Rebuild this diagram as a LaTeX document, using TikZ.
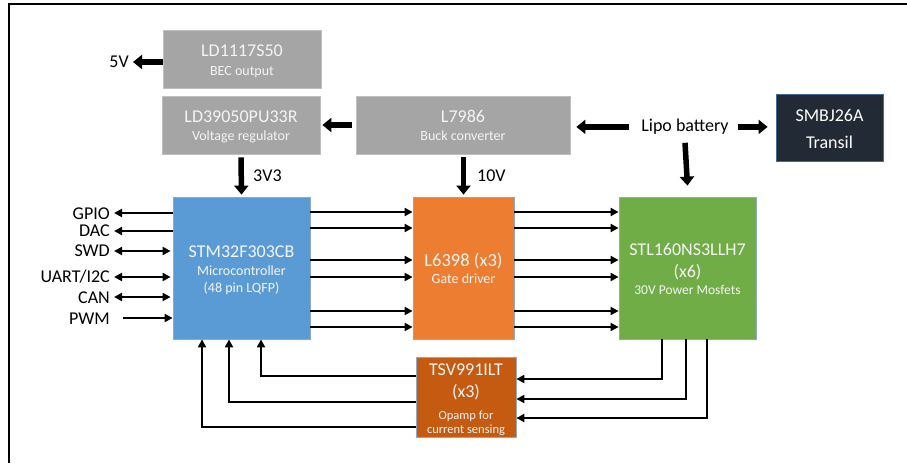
\documentclass[tikz,border=0pt]{standalone}
\usepackage{fontspec}
\setmainfont{Carlito}
\usetikzlibrary{arrows.meta}
\definecolor{boxgray}{HTML}{A5A5A5}
\definecolor{graybd}{HTML}{BFBFBF}
\definecolor{mcublue}{HTML}{5B9BD5}
\definecolor{gdorange}{HTML}{ED7D31}
\definecolor{fetgreen}{HTML}{70AD47}
\definecolor{oprust}{HTML}{C55A11}
\definecolor{tvsdark}{HTML}{222A35}
\definecolor{bdblue}{HTML}{8FA9C8}
\definecolor{txtw}{HTML}{F4F4F4}
\tikzset{
  blk/.style={draw=bdblue, line width=0.8pt, inner sep=0pt},
  grayblk/.style={draw=graybd, line width=0.8pt, fill=boxgray, inner sep=0pt},
  ttl/.style={anchor=base, inner sep=0pt, text=txtw, font=\fontsize{18}{20}\selectfont},
  sub/.style={anchor=base, inner sep=0pt, text=txtw, font=\fontsize{14}{16}\selectfont},
  tiny/.style={anchor=base, inner sep=0pt, text=txtw, font=\fontsize{12.5}{14}\selectfont},
  lbl/.style={anchor=base, inner sep=0pt, text=black, font=\fontsize{18}{20}\selectfont},
  sig/.style={line width=2.2pt, -{Triangle[width=8pt,length=8pt]}},
  sigb/.style={line width=2.2pt, {Triangle[width=8pt,length=8pt]}-{Triangle[width=8pt,length=8pt]}},
  pwr/.style={line width=5.5pt, -{Triangle[width=14pt,length=9pt]}},
}
\begin{document}
\begin{tikzpicture}[x=1pt,y=-1pt]
\useasboundingbox (0,0) rectangle (907,463);
\fill[white] (0,0) rectangle (907,463);
\draw[line width=2.5pt] (9,463) -- (9,4) -- (907,4);

% boxes
\node[grayblk, minimum width=158pt, minimum height=58pt] (ldbec) at (242,59) {};
\node[grayblk, minimum width=158pt, minimum height=58pt] (ldreg) at (241,125) {};
\node[grayblk, minimum width=214pt, minimum height=58pt] (buck) at (463,125) {};
\node[blk, draw=mcublue!70!black, fill=tvsdark, minimum width=107pt, minimum height=67pt] (tvs) at (829.5,127.5) {};
\node[blk, fill=mcublue, minimum width=137pt, minimum height=142pt] (mcu) at (241.5,268) {};
\node[blk, fill=gdorange, minimum width=101pt, minimum height=142pt] (gd) at (463.5,268) {};
\node[blk, fill=fetgreen, minimum width=137pt, minimum height=142pt] (fet) at (687.5,268) {};
\node[blk, fill=oprust, minimum width=100pt, minimum height=80pt] (opa) at (466,397) {};

% box texts
\node[ttl] (ldbec1) at (242,56.7) {LD1117S50};
\node[sub] (ldbec2) at (242,75) {BEC output};
\node[ttl] (ldreg1) at (241,122.7) {LD39050PU33R};
\node[sub] (ldreg2) at (241,140) {Voltage regulator};
\node[ttl] (buck1) at (463,122.7) {L7986};
\node[sub] (buck2) at (463,140) {Buck converter};
\node[ttl, text=white] (tvs1) at (829.5,121.7) {SMBJ26A};
\node[ttl, text=white] (tvs2) at (829.5,148.3) {Transil};
\node[ttl] (mcu1) at (241.5,257.3) {STM32F303CB};
\node[sub] (mcu2) at (241.5,275.7) {Microcontroller};
\node[sub] (mcu3) at (241.5,292.7) {(48 pin LQFP)};
\node[ttl, font=\fontsize{18.5}{20}\selectfont] (gd1) at (463.5,266) {L6398 (x3)};
\node[sub] (gd2) at (463.5,283.3) {Gate driver};
\node[ttl] (fet1) at (687.5,255) {STL160NS3LLH7};
\node[ttl] (fet2) at (687.5,277.3) {(x6)};
\node[sub, font=\fontsize{13.5}{16}\selectfont] (fet3) at (687.5,294.3) {30V Power Mosfets};
\node[ttl] (opa1) at (466,375) {TSV991ILT};
\node[ttl] (opa2) at (466,397.3) {(x3)};
\node[tiny] (opa3) at (466,419.3) {Opamp for};
\node[tiny] (opa4) at (466,433.3) {current sensing};

% outside labels
\node[lbl, anchor=base east] (v5) at (129,67.7) {5V};
\node[lbl, anchor=base west] (v33) at (253,181.7) {3V3};
\node[lbl, anchor=base west] (v10) at (477,181.7) {10V};
\node[lbl] (lipo) at (685,131.7) {Lipo battery};
\node[lbl, anchor=base east] (gpio) at (110,219.3) {GPIO};
\node[lbl, anchor=base east] (dac) at (110,236.7) {DAC};
\node[lbl, anchor=base east] (swd) at (110,256.7) {SWD};
\node[lbl, anchor=base east] (uart) at (110,282.3) {UART/I2C};
\node[lbl, anchor=base east] (can) at (110,303.3) {CAN};
\node[lbl, anchor=base east] (pwm) at (110,324) {PWM};

% power arrows
\coordinate (v5tip) at (133,62);
\draw[pwr] (ldbec.west |- v5tip) -- (v5tip);
\draw[pwr] ([xshift=-4pt]buck.west) -- ([xshift=2pt]ldreg.east);
\draw[pwr] ([yshift=-3pt]ldreg.south) -- ([yshift=2pt]mcu.north);
\draw[pwr] ([yshift=-3pt]buck.south -| gd.north) -- ([yshift=2pt]gd.north);
\draw[pwr] ([xshift=-12pt]lipo.west) -- ([xshift=6pt]buck.east |- lipo.west);
\draw[pwr] ([xshift=9pt]lipo.east) -- ([xshift=-8pt]tvs.west |- lipo.east);
\draw[pwr] ([yshift=-8pt]lipo.south) -- ([yshift=11pt]fet.north);

% left side signals
\draw[sig] (mcu.west |- 0,213) -- (114,213);
\draw[sig] (mcu.west |- 0,231) -- (114,231);
\draw[sigb] (114,251) -- ([xshift=-2pt]mcu.west |- 0,251);
\draw[sigb] (114,277) -- ([xshift=-2pt]mcu.west |- 0,277);
\draw[sigb] (114,297) -- ([xshift=-2pt]mcu.west |- 0,297);
\draw[sig] (123,318) -- (mcu.west |- 0,318);

% mcu -> gate driver -> fets
\foreach \yy in {212,228,260,277,311,327}{
  \draw[sig] (mcu.east |- 0,\yy) -- (gd.west |- 0,\yy);
  \draw[sig] (gd.east |- 0,\yy) -- (fet.west |- 0,\yy);
}

% fets -> opamp
\draw[sig] (fet.south -| 662,0) |- (opa.east |- 0,379);
\draw[sig] (fet.south -| 686,0) |- (opa.east |- 0,399);
\draw[sig] (fet.south -| 707,0) |- (opa.east |- 0,418);

% opamp -> mcu
\draw[sig] (opa.west |- 0,376) -| (mcu.south -| 261,0);
\draw[sig] (opa.west |- 0,402) -| (mcu.south -| 229,0);
\draw[sig] (opa.west |- 0,427) -| (mcu.south -| 202,0);
\end{tikzpicture}
\end{document}
